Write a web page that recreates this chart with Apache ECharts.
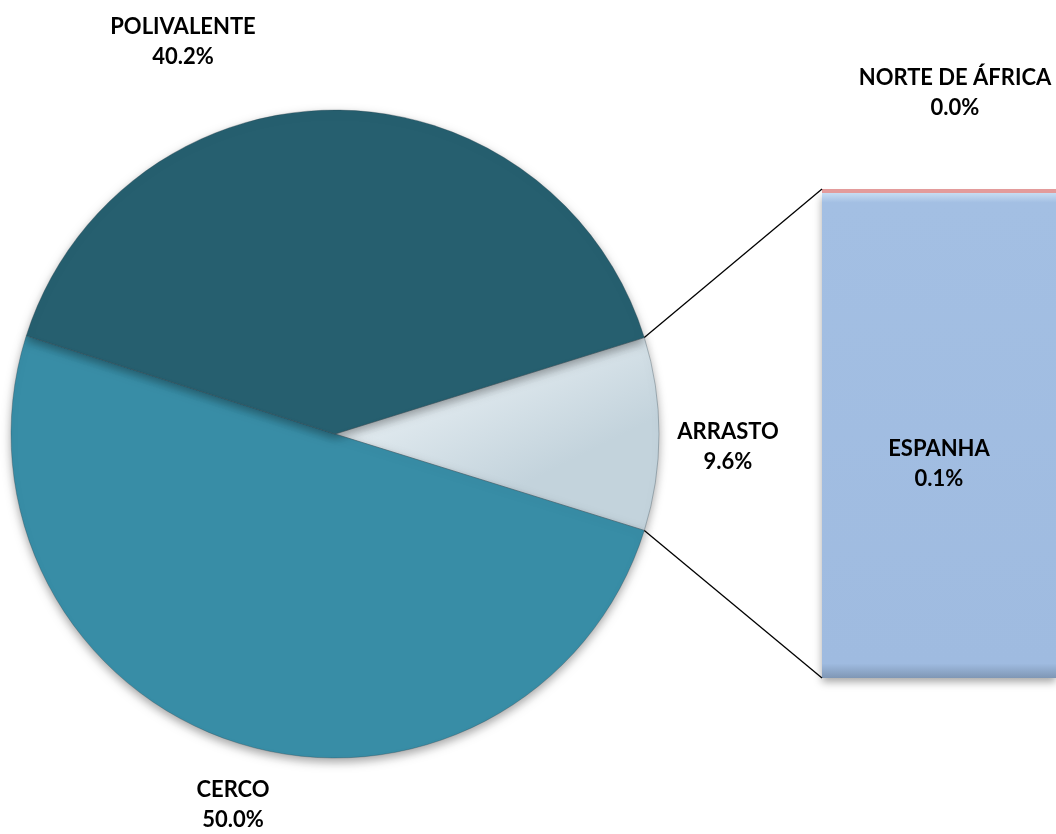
<!DOCTYPE html>
<html>
<head>
<meta charset="utf-8">
<script src="https://cdn.jsdelivr.net/npm/echarts@6/dist/echarts.min.js"></script>
<style>
html,body{margin:0;padding:0;background:#fff;}
#c{width:1056px;height:834px;}
</style>
</head>
<body>
<div id="c"></div>
<script>
// ---- data ----
const pieNames = ['ARRASTO', 'CERCO', 'POLIVALENTE'];
const pieValues = [9.6, 50.0, 40.2];
const barNames = ['ESPANHA', 'NORTE DE ÁFRICA'];
const barValues = [0.1, 0.0008];
const barLabels = ['0.1%', '0.0%'];

// ---- layout / style ----
const PIE_CX = 335, PIE_CY = 434, PIE_R = 324;
const GRID = {left: 822, top: 189, width: 234, height: 489};
const FONT = 'Lato, "Open Sans", sans-serif';
const pieColors = [
  {type:'linear',x:0,y:0,x2:0.3,y2:1,colorStops:[{offset:0,color:'#F7FBFD'},{offset:1,color:'#C3D3DC'}]},
  '#388DA6',
  '#265F6F'
];
const barColors = [
  {type:'linear',x:0,y:0,x2:0,y2:1,colorStops:[{offset:0,color:'#C8DDF2'},{offset:0.02,color:'#A3BFE3'},{offset:0.97,color:'#9FBBE0'},{offset:1,color:'#7F97B5'}]},
  '#E39B9B'
];
const labelPos = [[728, 447], [233, 805], [183, 42]];

const pieSum = pieValues.reduce((a,b)=>a+b,0);
const startAngle = pieValues[0] / pieSum * 360 / 2;
const barTotal = barValues.reduce((a,b)=>a+b,0);

const chart = echarts.init(document.getElementById('c'), null, {renderer:'canvas'});

const labelStyle = {
  fontFamily: FONT, fontWeight: 'bold', fontSize: 22, color: '#000', lineHeight: 30, align: 'center'
};

const option = {
  backgroundColor: '#fff',
  animation: false,
  grid: {left: GRID.left, top: GRID.top, width: GRID.width, height: GRID.height},
  xAxis: {type: 'category', data: [''], show: false},
  yAxis: {type: 'value', min: 0, max: barTotal, show: false},
  series: [
    {
      type: 'pie',
      center: [PIE_CX, PIE_CY],
      radius: PIE_R,
      startAngle: startAngle,
      clockwise: true,
      avoidLabelOverlap: false,
      data: pieNames.map((n, i) => ({name: n, value: pieValues[i], itemStyle: {color: pieColors[i]}})),
      itemStyle: {
        shadowBlur: 10, shadowColor: 'rgba(0,0,0,0.35)', shadowOffsetY: 4,
        borderColor: 'rgba(40,60,70,0.5)', borderWidth: 0.6
      },
      label: Object.assign({
        show: true, position: 'outside',
        formatter: p => p.name + '\n' + p.value.toFixed(1) + '%'
      }, labelStyle),
      labelLine: {show: false},
      labelLayout: p => ({x: labelPos[p.dataIndex][0], y: labelPos[p.dataIndex][1], align: 'center', verticalAlign: 'middle'}),
      emphasis: {disabled: true}
    },
    {
      type: 'bar', stack: 'b', name: barNames[0], barWidth: '100%',
      data: [barValues[0]],
      itemStyle: {color: barColors[0], shadowBlur: 8, shadowColor: 'rgba(0,0,0,0.35)', shadowOffsetY: 4},
      label: Object.assign({show: true, position: 'inside', offset: [0, 28],
        formatter: () => barNames[0] + '\n' + barLabels[0]}, labelStyle),
      emphasis: {disabled: true}
    },
    {
      type: 'bar', stack: 'b', name: barNames[1], barWidth: '100%',
      data: [barValues[1]],
      itemStyle: {color: barColors[1]},
      label: Object.assign({show: true, position: 'top', distance: 66, offset: [16, 0],
        formatter: () => barNames[1] + '\n' + barLabels[1]}, labelStyle),
      emphasis: {disabled: true}
    }
  ]
};
chart.setOption(option);

// connector lines from pie slice edges to bar corners
const a1 = startAngle * Math.PI / 180, a2 = -startAngle * Math.PI / 180;
const topPt = chart.convertToPixel({xAxisIndex: 0, yAxisIndex: 0}, [0, barTotal]);
const botPt = chart.convertToPixel({xAxisIndex: 0, yAxisIndex: 0}, [0, 0]);
const barLeft = topPt[0] - GRID.width / 2;
chart.setOption({
  graphic: [
    {type: 'line', shape: {x1: PIE_CX + PIE_R * Math.cos(a1), y1: PIE_CY - PIE_R * Math.sin(a1), x2: barLeft, y2: topPt[1]},
     style: {stroke: '#000', lineWidth: 1.3}, z: 10},
    {type: 'line', shape: {x1: PIE_CX + PIE_R * Math.cos(a2), y1: PIE_CY - PIE_R * Math.sin(a2), x2: barLeft, y2: botPt[1]},
     style: {stroke: '#000', lineWidth: 1.3}, z: 10}
  ]
});
</script>
</body>
</html>
